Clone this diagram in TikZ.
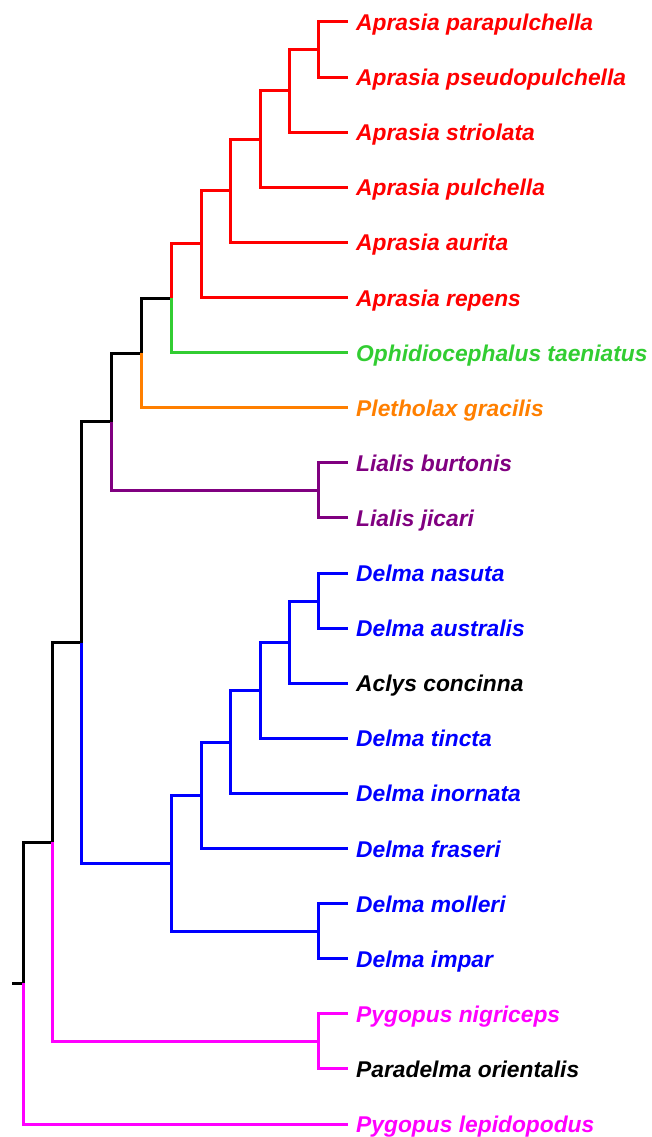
\documentclass[tikz,border=0pt]{standalone}
\usepackage{fontspec}
\setmainfont{Liberation Sans}
\definecolor{cRed}{RGB}{255,0,0}
\definecolor{cGreen}{RGB}{50,205,50}
\definecolor{cOrange}{RGB}{255,127,0}
\definecolor{cPurple}{RGB}{128,0,128}
\definecolor{cBlue}{RGB}{0,0,255}
\definecolor{cMag}{RGB}{255,0,255}
\begin{document}
\begin{tikzpicture}[x=1pt,y=-1pt,
  br/.style={line width=3pt, line join=miter},
  lab/.style={anchor=west, inner xsep=8pt, inner ysep=0pt, text height=17pt, text depth=0pt,
    font=\fontsize{22.8}{23}\selectfont\bfseries\itshape}]
\useasboundingbox (0,0) rectangle (652,1137);
% leaves
\foreach \i/\t/\c in {1/Aprasia parapulchella/cRed, 2/Aprasia pseudopulchella/cRed,
  3/Aprasia striolata/cRed, 4/Aprasia pulchella/cRed, 5/Aprasia aurita/cRed,
  6/Aprasia repens/cRed, 7/Ophidiocephalus taeniatus/cGreen, 8/Pletholax gracilis/cOrange,
  9/Lialis burtonis/cPurple, 10/Lialis jicari/cPurple, 11/Delma nasuta/cBlue,
  12/Delma australis/cBlue, 13/Aclys concinna/black, 14/Delma tincta/cBlue,
  15/Delma inornata/cBlue, 16/Delma fraseri/cBlue, 17/Delma molleri/cBlue,
  18/Delma impar/cBlue, 19/Pygopus nigriceps/cMag, 20/Paradelma orientalis/black,
  21/Pygopus lepidopodus/cMag}
  \node[lab, text=\c] (L\i) at (348, {22+55.1*(\i-1)}) {\t};
% internal nodes
\coordinate (stub) at (12,983);
\coordinate (r0) at (23,983);
\coordinate (n1) at (52,842.1);
\coordinate (pyg) at (318,1041.5);
\coordinate (n2) at (81,642.7);
\coordinate (n3) at (111,421.9);
\coordinate (lia) at (318,490.5);
\coordinate (n4) at (141,353.2);
\coordinate (n5) at (171,298.4);
\coordinate (a1) at (201,243.9);
\coordinate (a2) at (230,190.5);
\coordinate (a3) at (260,139);
\coordinate (a4) at (289,90.8);
\coordinate (a5) at (318,49.5);
\coordinate (d0) at (171,863.6);
\coordinate (d1) at (201,795.7);
\coordinate (d2) at (230,742.4);
\coordinate (d3) at (260,690.9);
\coordinate (d4) at (289,642.8);
\coordinate (d5) at (318,601.5);
\coordinate (d6) at (318,931.5);
% backbone (black)
\draw[br] (stub) -- (r0);
\draw[br] (r0) |- (n1);
\draw[br] (n1) |- (n2);
\draw[br] (n2) |- (n3);
\draw[br] (n3) |- (n4);
\draw[br] (n4) |- (n5);
% Aprasia
\draw[br, cRed] (n5) |- (a1);
\draw[br, cRed] (a1) |- (a2);
\draw[br, cRed] (a1) |- (L6.west);
\draw[br, cRed] (a2) |- (a3);
\draw[br, cRed] (a2) |- (L5.west);
\draw[br, cRed] (a3) |- (a4);
\draw[br, cRed] (a3) |- (L4.west);
\draw[br, cRed] (a4) |- (a5);
\draw[br, cRed] (a4) |- (L3.west);
\draw[br, cRed] (a5) |- (L1.west);
\draw[br, cRed] (a5) |- (L2.west);
% Ophidiocephalus, Pletholax
\draw[br, cGreen] (n5) |- (L7.west);
\draw[br, cOrange] (n4) |- (L8.west);
% Lialis
\draw[br, cPurple] (n3) |- (lia);
\draw[br, cPurple] (lia) |- (L9.west);
\draw[br, cPurple] (lia) |- (L10.west);
% Delma
\draw[br, cBlue] (n2) |- (d0);
\draw[br, cBlue] (d0) |- (d1);
\draw[br, cBlue] (d0) |- (d6);
\draw[br, cBlue] (d1) |- (d2);
\draw[br, cBlue] (d1) |- (L16.west);
\draw[br, cBlue] (d2) |- (d3);
\draw[br, cBlue] (d2) |- (L15.west);
\draw[br, cBlue] (d3) |- (d4);
\draw[br, cBlue] (d3) |- (L14.west);
\draw[br, cBlue] (d4) |- (d5);
\draw[br, cBlue] (d4) |- (L13.west);
\draw[br, cBlue] (d5) |- (L11.west);
\draw[br, cBlue] (d5) |- (L12.west);
\draw[br, cBlue] (d6) |- (L17.west);
\draw[br, cBlue] (d6) |- (L18.west);
% Pygopus
\draw[br, cMag] (n1) |- (pyg);
\draw[br, cMag] (pyg) |- (L19.west);
\draw[br, cMag] (pyg) |- (L20.west);
\draw[br, cMag] (r0) |- (L21.west);
\end{tikzpicture}
\end{document}
